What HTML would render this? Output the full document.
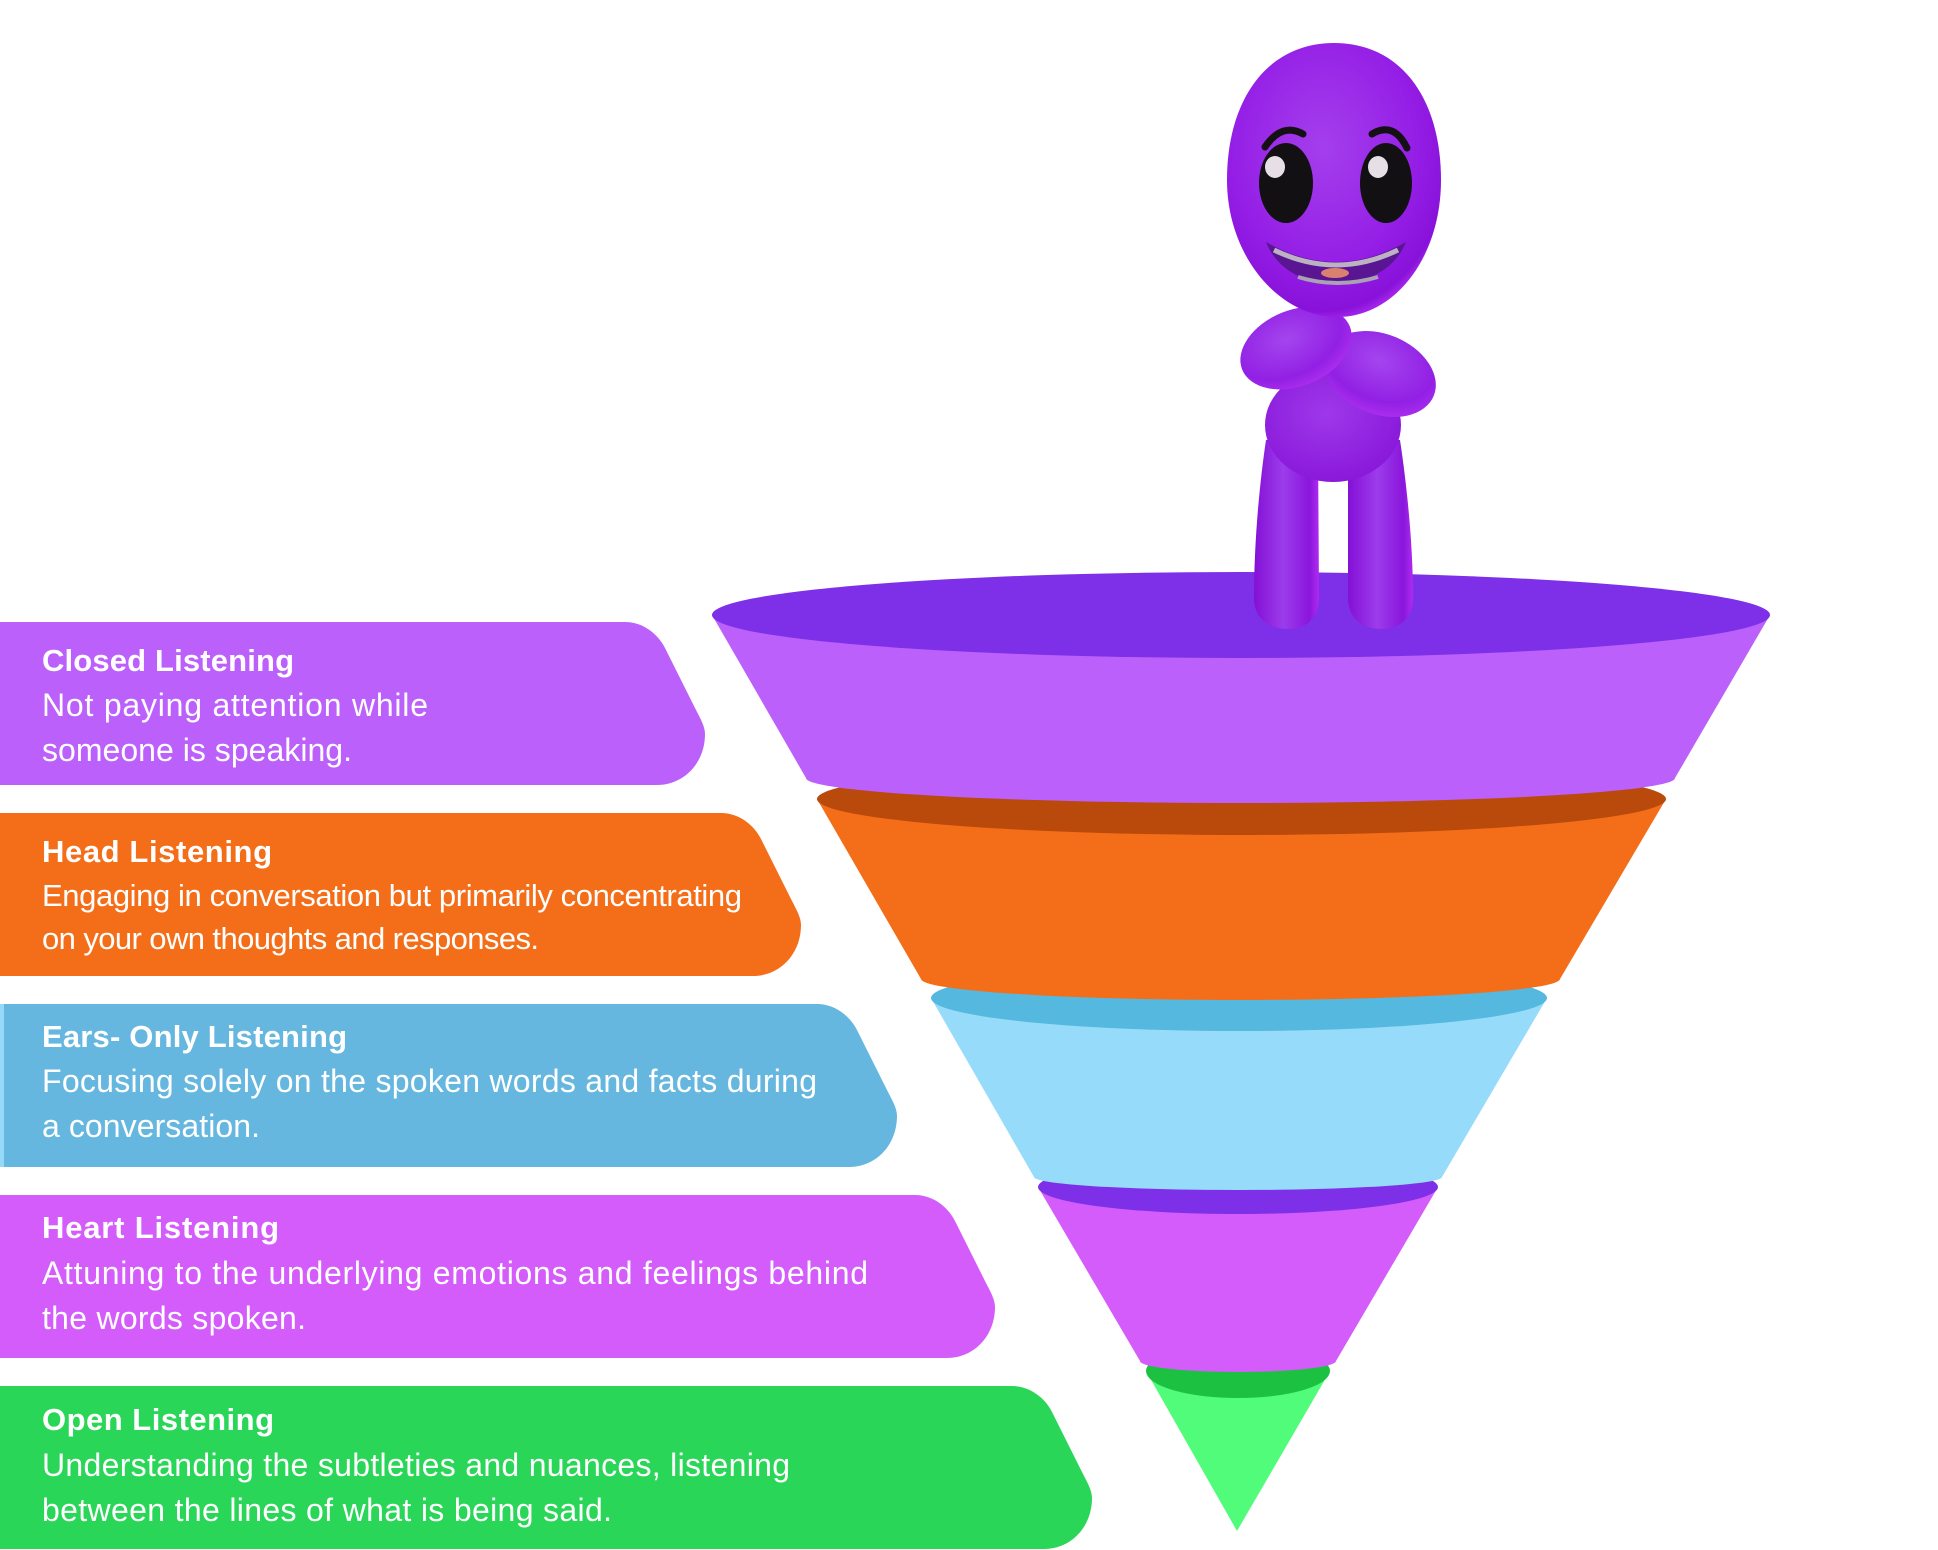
<!DOCTYPE html>
<html>
<head>
<meta charset="utf-8">
<style>
html,body{margin:0;padding:0;background:#ffffff;width:1938px;height:1550px;overflow:hidden}
svg{display:block}
</style>
</head>
<body>
<svg width="1938" height="1550" viewBox="0 0 1938 1550" xmlns="http://www.w3.org/2000/svg">
<defs>
  <radialGradient id="hg" cx="0.45" cy="0.38" r="0.65">
    <stop offset="0" stop-color="#A43FEC"/>
    <stop offset="0.65" stop-color="#951FE6"/>
    <stop offset="0.92" stop-color="#8812D9"/>
    <stop offset="1" stop-color="#B42EF2"/>
  </radialGradient>
  <linearGradient id="lg" x1="0" y1="0" x2="1" y2="0">
    <stop offset="0" stop-color="#8410D6"/>
    <stop offset="0.45" stop-color="#9C3CEB"/>
    <stop offset="0.85" stop-color="#8A16DC"/>
    <stop offset="1" stop-color="#B02AF0"/>
  </linearGradient>
  <radialGradient id="ag" cx="0.45" cy="0.35" r="0.7">
    <stop offset="0" stop-color="#A445EE"/>
    <stop offset="0.7" stop-color="#9220E4"/>
    <stop offset="1" stop-color="#B030F0"/>
  </radialGradient>
  <radialGradient id="bg" cx="0.45" cy="0.4" r="0.7">
    <stop offset="0" stop-color="#9E38EA"/>
    <stop offset="1" stop-color="#8714D8"/>
  </radialGradient>
</defs>

<!-- Text boxes -->
<path d="M0,622 H625 C643,622 658,634 665,648 L695,708 C700,718 705,726 705,734 C705,763 684,785 657,785 H0 Z" fill="#BC60FC"/>
<path d="M0,813 H721 C739,813 754,825 761,839 L791,899 C796,909 801,917 801,925 C801,954 780,976 753,976 H0 Z" fill="#F46E19"/>
<path d="M0,1004 H817 C835,1004 850,1016 857,1030 L887,1090 C892,1100 897,1108 897,1116 C897,1145 876,1167 849,1167 H0 Z" fill="#66B7E0"/>
<rect x="0" y="1004" width="4" height="163" fill="#95D9F9"/>
<path d="M0,1195 H915 C933,1195 948,1207 955,1221 L985,1281 C990,1291 995,1299 995,1307 C995,1336 974,1358 947,1358 H0 Z" fill="#D45CFB"/>
<path d="M0,1386 H1012 C1030,1386 1045,1398 1052,1412 L1082,1472 C1087,1482 1092,1490 1092,1498 C1092,1527 1071,1549 1044,1549 H0 Z" fill="#2AD657"/>

<g font-family="'Liberation Sans', Arial, sans-serif" fill="#ffffff">
  <text x="42" y="671" font-weight="bold" font-size="31" textLength="252" lengthAdjust="spacing">Closed Listening</text>
  <text x="42" y="716" font-size="32" textLength="386" lengthAdjust="spacing">Not paying attention while</text>
  <text x="42" y="761" font-size="32" textLength="310" lengthAdjust="spacing">someone is speaking.</text>

  <text x="42" y="862" font-weight="bold" font-size="31" textLength="230" lengthAdjust="spacing">Head Listening</text>
  <text x="42" y="906" font-size="31" textLength="700" lengthAdjust="spacing">Engaging in conversation but primarily concentrating</text>
  <text x="42" y="949" font-size="31" textLength="497" lengthAdjust="spacing">on your own thoughts and responses.</text>

  <text x="42" y="1047" font-weight="bold" font-size="31" textLength="305" lengthAdjust="spacing">Ears- Only Listening</text>
  <text x="42" y="1092" font-size="32" textLength="775" lengthAdjust="spacing">Focusing solely on the spoken words and facts during</text>
  <text x="42" y="1137" font-size="32" textLength="218" lengthAdjust="spacing">a conversation.</text>

  <text x="42" y="1238" font-weight="bold" font-size="31" textLength="237" lengthAdjust="spacing">Heart Listening</text>
  <text x="42" y="1284" font-size="32" textLength="826" lengthAdjust="spacing">Attuning to the underlying emotions and feelings behind</text>
  <text x="42" y="1329" font-size="32" textLength="264" lengthAdjust="spacing">the words spoken.</text>

  <text x="42" y="1430" font-weight="bold" font-size="31" textLength="232" lengthAdjust="spacing">Open Listening</text>
  <text x="42" y="1476" font-size="32" textLength="748" lengthAdjust="spacing">Understanding the subtleties and nuances, listening</text>
  <text x="42" y="1521" font-size="32" textLength="570" lengthAdjust="spacing">between the lines of what is being said.</text>
</g>

<!-- Funnel (bottom to top) -->
<path d="M1146,1371 L1237,1531 L1330,1371 Z" fill="#52FC7B"/>
<ellipse cx="1238" cy="1371" rx="92" ry="27" fill="#1CC142"/>

<path d="M1038,1187 L1140,1361 A98,11 0 0 0 1336,1361 L1438,1187 Z" fill="#D45CFB"/>
<ellipse cx="1238" cy="1187" rx="200" ry="27" fill="#7E30E8"/>

<path d="M931,998 L1034,1177 A204,13 0 0 0 1442,1177 L1547,998 Z" fill="#97DBFA"/>
<ellipse cx="1239" cy="998" rx="308" ry="33" fill="#55B8DE"/>

<path d="M817,799 L921,979 A319.5,21 0 0 0 1560,979 L1666,799 Z" fill="#F46E19"/>
<ellipse cx="1241.5" cy="799" rx="424.5" ry="36" fill="#BA4A0C"/>

<path d="M712,615 L806,778 A434.5,25 0 0 0 1675,778 L1770,615 Z" fill="#BC60FC"/>
<ellipse cx="1241" cy="615" rx="529" ry="43" fill="#7E30E8"/>

<!-- Character -->
<!-- legs -->
<path d="M1266,440 L1318,440 L1319,598 C1319,618 1306,629 1288,629 C1268,629 1254,618 1254,598 C1254,540 1260,480 1266,440 Z" fill="url(#lg)"/>
<path d="M1348,440 L1400,440 C1406,480 1413,540 1413,598 C1413,618 1400,629 1381,629 C1362,629 1348,618 1348,598 Z" fill="url(#lg)"/>
<!-- body -->
<ellipse cx="1333" cy="425" rx="68" ry="57" fill="url(#bg)"/>
<!-- arms -->
<ellipse cx="1380" cy="374" rx="58" ry="40" transform="rotate(22 1380 374)" fill="url(#ag)"/>
<ellipse cx="1296" cy="348" rx="58" ry="38" transform="rotate(-22 1296 348)" fill="url(#ag)"/>
<!-- head -->
<path d="M1334,43 C1402,43 1441,100 1441,180 C1441,256 1396,317 1337,317 C1279,317 1227,256 1227,180 C1227,100 1267,43 1334,43 Z" fill="url(#hg)"/>
<!-- eyebrows -->
<path d="M1265,147 Q1282,122 1303,134" stroke="#141014" stroke-width="7" fill="none" stroke-linecap="round"/>
<path d="M1372,134 Q1394,121 1407,148" stroke="#141014" stroke-width="7" fill="none" stroke-linecap="round"/>
<!-- eyes -->
<ellipse cx="1286" cy="183" rx="27" ry="40" fill="#121012"/>
<ellipse cx="1386" cy="183" rx="26" ry="40" fill="#121012"/>
<ellipse cx="1275" cy="167" rx="10" ry="11" fill="#E6E0E6"/>
<ellipse cx="1378" cy="167" rx="10" ry="11" fill="#E6E0E6"/>
<!-- mouth -->
<path d="M1266,242 Q1336,282 1406,242 C1395,270 1365,284 1336,284 C1305,284 1277,270 1266,242 Z" fill="#5A1592"/>
<path d="M1274,250 Q1336,280 1398,250" stroke="#BBB3C4" stroke-width="5" fill="none"/>
<path d="M1298,277 Q1337,289 1378,277" stroke="#A9A2B4" stroke-width="4" fill="none"/>
<ellipse cx="1335" cy="273" rx="14" ry="5" fill="#D98070"/>
</svg>
</body>
</html>
